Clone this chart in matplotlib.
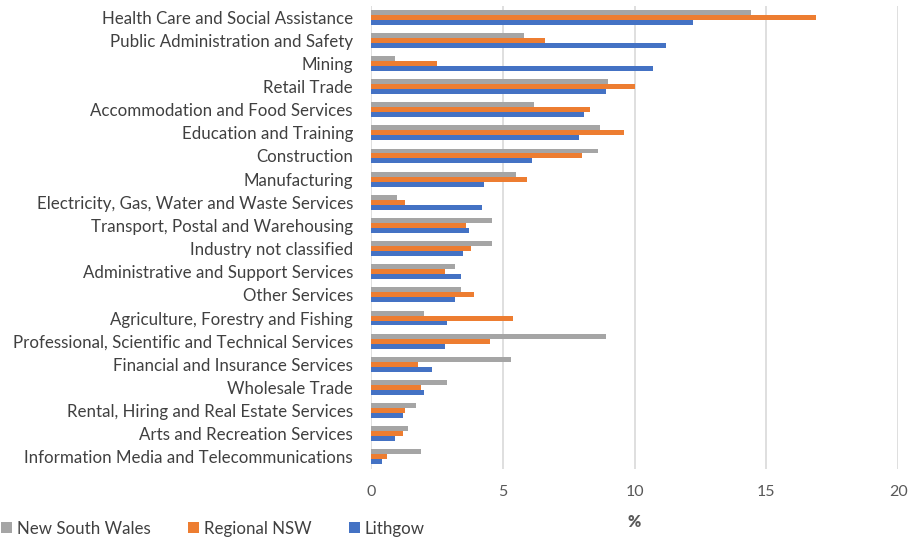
import numpy as np
import matplotlib.pyplot as plt

plt.rcParams['font.family'] = ['Lato', 'DejaVu Sans']

industries = [
    "Health Care and Social Assistance",
    "Public Administration and Safety",
    "Mining",
    "Retail Trade",
    "Accommodation and Food Services",
    "Education and Training",
    "Construction",
    "Manufacturing",
    "Electricity, Gas, Water and Waste Services",
    "Transport, Postal and Warehousing",
    "Industry not classified",
    "Administrative and Support Services",
    "Other Services",
    "Agriculture, Forestry and Fishing",
    "Professional, Scientific and Technical Services",
    "Financial and Insurance Services",
    "Wholesale Trade",
    "Rental, Hiring and Real Estate Services",
    "Arts and Recreation Services",
    "Information Media and Telecommunications",
]
nsw = [14.4, 5.8, 0.9, 9.0, 6.2, 8.7, 8.6, 5.5, 1.0, 4.6,
       4.6, 3.2, 3.4, 2.0, 8.9, 5.3, 2.9, 1.7, 1.4, 1.9]
regional = [16.9, 6.6, 2.5, 10.0, 8.3, 9.6, 8.0, 5.9, 1.3, 3.6,
            3.8, 2.8, 3.9, 5.4, 4.5, 1.8, 1.9, 1.3, 1.2, 0.6]
lithgow = [12.2, 11.2, 10.7, 8.9, 8.1, 7.9, 6.1, 4.3, 4.2, 3.7,
           3.5, 3.4, 3.2, 2.9, 2.8, 2.3, 2.0, 1.2, 0.9, 0.4]

series = [("New South Wales", nsw, "#A5A5A5"),
          ("Regional NSW", regional, "#ED7D31"),
          ("Lithgow", lithgow, "#4472C4")]

fig = plt.figure(figsize=(9.12, 5.4), dpi=100)
ax = fig.add_axes([0.4068, 0.1324, 0.578, 0.8574])

y = np.arange(len(industries))
h = 0.215
for k, (name, vals, col) in enumerate(series):
    ax.barh(y + (k - 1) * h, vals, height=h, color=col, label=name, zorder=3)

ax.set_ylim(len(industries) - 0.5, -0.5)
ax.set_xlim(0, 20)
ax.set_xticks([0, 5, 10, 15, 20])
ax.set_yticks(y)
ax.set_yticklabels(industries, fontsize=12.2, color="#404040")
ax.tick_params(axis="y", length=0, pad=13)
ax.tick_params(axis="x", length=0, pad=12, labelsize=11.5, labelcolor="#595959")
for s in ax.spines.values():
    s.set_visible(False)
ax.grid(axis="x", color="#D9D9D9", linewidth=1.2, zorder=0)
ax.set_xlabel("%", fontsize=11.5, fontweight="heavy", color="#595959", labelpad=11)

fig.legend(loc="lower left", bbox_to_anchor=(-0.016, -0.022), ncol=3, frameon=False,
           fontsize=12.2, handlelength=0.65, handleheight=0.65, handletextpad=0.3,
           columnspacing=2.2, labelcolor="#404040")

fig.savefig("out.png", dpi=100)
